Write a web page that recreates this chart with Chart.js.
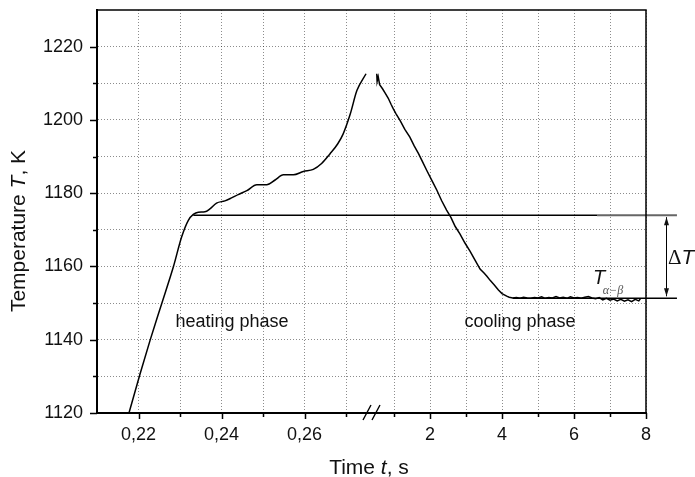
<!DOCTYPE html>
<html>
<head>
<meta charset="utf-8">
<script src="https://cdn.jsdelivr.net/npm/chart.js@4.4.0/dist/chart.umd.min.js"></script>
<style>
  html, body { margin: 0; padding: 0; background: #fff; }
  #wrap { width: 695px; height: 477px; }
</style>
</head>
<body>
<div id="wrap"><canvas id="tempChart"></canvas></div>
<script>
// heating phase (left part of the broken time axis)
const heatTime = [0.2175, 0.2204, 0.2228, 0.2256, 0.2284, 0.2304, 0.2320, 0.2332, 0.2344, 0.2360,
    0.2372, 0.2388, 0.2408, 0.2424, 0.2440, 0.2461, 0.2485, 0.2509, 0.2529, 0.2549,
    0.2573, 0.2597, 0.2621, 0.2641, 0.2661, 0.2680, 0.2693, 0.2710, 0.2726, 0.2748];
const heatTemp = [1119.2, 1130.8, 1139.9, 1149.9, 1159.9, 1168.1, 1172.6, 1174.2, 1174.8, 1174.9,
    1175.7, 1177.3, 1177.9, 1178.7, 1179.6, 1180.7, 1182.3, 1182.3, 1183.6, 1185.0,
    1185.0, 1185.9, 1186.5, 1188.1, 1190.7, 1193.5, 1196.2, 1201.6, 1208.0, 1212.6];

// cooling phase (right part of the time axis)
const coolTime = [0.52, 0.53, 0.56, 0.60, 0.68, 0.75, 0.84, 0.92, 0.98, 1.06,
    1.17, 1.30, 1.44, 1.56, 1.68, 1.80, 1.91, 2.05, 2.19, 2.32,
    2.46, 2.58, 2.70, 2.83, 2.97, 3.11, 3.25, 3.39, 3.50, 3.58,
    3.67, 3.78, 3.90, 4.00, 4.13, 4.2, 4.3, 4.4, 4.5, 4.6,
    4.7, 4.8, 4.9, 5.0, 5.1, 5.2, 5.3, 5.4, 5.5, 5.6,
    5.7, 5.8, 5.9, 6.0, 6.1, 6.2, 6.3, 6.4, 6.5, 6.6,
    6.7, 6.8, 6.9, 7.0, 7.1, 7.2, 7.3, 7.4, 7.5, 7.6,
    7.7, 7.8, 7.85];
const coolTemp = [1212.6, 1210.5, 1211.8, 1209.6, 1208.5, 1207.4, 1205.9, 1204.2, 1203.0, 1201.6,
    1199.8, 1197.4, 1195.3, 1192.9, 1190.8, 1188.4, 1186.2, 1183.5, 1180.8, 1178.0,
    1175.4, 1173.4, 1170.9, 1168.9, 1166.4, 1164.2, 1161.7, 1159.3, 1158.2, 1157.3,
    1156.2, 1155.0, 1153.6, 1152.6, 1151.9, 1151.6, 1151.4, 1151.5, 1151.3, 1151.6,
    1151.4, 1151.3, 1151.5, 1151.4, 1151.7, 1151.3, 1151.5, 1151.4, 1151.8, 1151.4,
    1151.6, 1151.3, 1151.7, 1151.4, 1151.5, 1151.3, 1151.6, 1151.8, 1151.4, 1151.2,
    1151.5, 1150.9, 1151.3, 1150.8, 1151.1, 1150.6, 1151.0, 1150.5, 1150.9, 1150.4,
    1151.0, 1150.6, 1151.3];

// reference levels
const levelTemp = 1174;        // end of heating plateau
const transTemp = 1151.3;      // T alpha-beta
const levelStart = 0.2332;     // where the plateau line starts (left axis)
const levelEnd = 6.64;         // black part ends (right axis)
const outerEnd = 8.86;         // lines drawn past the frame
const transStart = 4.3;
const arrowTime = 8.556;

// axis ticks and labels
const leftTicks = [0.21, 0.22, 0.23, 0.24, 0.25, 0.26, 0.27];
const leftLabels = [0.22, 0.24, 0.26];
const rightTicks = [1, 2, 3, 4, 5, 6, 7, 8];
const rightLabels = [2, 4, 6, 8];
const yTicks = [1120, 1130, 1140, 1150, 1160, 1170, 1180, 1190, 1200, 1210, 1220];
const yLabels = [1120, 1140, 1160, 1180, 1200, 1220];

const FONT = "'Liberation Sans', Arial, sans-serif";
const gridColor = 'rgba(0,0,0,0.45)';

const has = (arr, v) => arr.some(a => Math.abs(a - v) < 1e-6);
const pts = (xs, ys) => xs.map((x, i) => ({ x: x, y: ys[i] }));

function drawRuns(ctx, runs, x, y, align) {
    let total = 0;
    runs.forEach(r => { ctx.font = r[1]; total += ctx.measureText(r[0]).width; });
    let cx = align === 'center' ? x - total / 2 : x;
    ctx.textAlign = 'left';
    runs.forEach(r => {
        ctx.font = r[1];
        ctx.fillText(r[0], cx, y);
        cx += ctx.measureText(r[0]).width;
    });
}

// frame, tick marks, axis break, titles and annotations
const decorPlugin = {
    id: 'decor',
    afterDraw(chart) {
        const ctx = chart.ctx;
        const area = chart.chartArea;
        const { x1, x2, y } = chart.scales;
        ctx.save();
        ctx.strokeStyle = '#000';
        ctx.fillStyle = '#000';

        // top and right frame
        ctx.lineWidth = 1.5;
        ctx.beginPath();
        ctx.moveTo(area.left, area.top);
        ctx.lineTo(area.right, area.top);
        ctx.lineTo(area.right, area.bottom);
        ctx.stroke();

        // tick marks
        ctx.lineWidth = 1.5;
        ctx.beginPath();
        yTicks.forEach(v => {
            const py = Math.round(y.getPixelForValue(v)) + 0.5;
            const len = has(yLabels, v) ? 7 : 4;
            ctx.moveTo(area.left, py);
            ctx.lineTo(area.left - len, py);
        });
        leftTicks.forEach(v => {
            if (v === leftTicks[0]) return;
            const px = Math.round(x1.getPixelForValue(v)) + 0.5;
            const len = has(leftLabels, v) ? 6 : 4;
            ctx.moveTo(px, area.bottom);
            ctx.lineTo(px, area.bottom + len);
        });
        rightTicks.forEach(v => {
            const px = Math.round(x2.getPixelForValue(v)) + 0.5;
            const len = has(rightLabels, v) ? 6 : 4;
            ctx.moveTo(px, area.bottom);
            ctx.lineTo(px, area.bottom + len);
        });
        ctx.stroke();

        // axis break //
        const bx = x2.left;
        ctx.lineWidth = 1.4;
        ctx.beginPath();
        ctx.moveTo(bx - 8, area.bottom + 7);
        ctx.lineTo(bx, area.bottom - 8);
        ctx.moveTo(bx + 1, area.bottom + 7);
        ctx.lineTo(bx + 9, area.bottom - 8);
        ctx.stroke();

        // axis titles
        ctx.fillStyle = '#111';
        ctx.textBaseline = 'alphabetic';
        drawRuns(ctx, [['Time ', '21px ' + FONT], ['t', 'italic 21px ' + FONT], [', s', '21px ' + FONT]],
            369, 474, 'center');
        ctx.save();
        ctx.translate(25, 231);
        ctx.rotate(-Math.PI / 2);
        drawRuns(ctx, [['Temperature ', '21px ' + FONT], ['T', 'italic 21px ' + FONT], [', K', '21px ' + FONT]],
            0, 0, 'center');
        ctx.restore();

        // phase labels
        ctx.font = '18px ' + FONT;
        ctx.textAlign = 'center';
        ctx.textBaseline = 'middle';
        ctx.fillText('heating phase', x1.getPixelForValue(0.2425), y.getPixelForValue(1144.8));
        ctx.fillText('cooling phase', x2.getPixelForValue(4.5), y.getPixelForValue(1144.8));

        // T alpha-beta
        ctx.textBaseline = 'alphabetic';
        drawRuns(ctx, [['T', 'italic 20px ' + FONT]], x2.getPixelForValue(6.53), y.getPixelForValue(1155.1), 'left');
        ctx.fillStyle = '#555';
        drawRuns(ctx, [['\u03b1\u2212\u03b2', 'italic 12px "Liberation Serif", serif']],
            x2.getPixelForValue(6.8), y.getPixelForValue(1152.5), 'left');

        // delta T with double arrow
        ctx.fillStyle = '#111';
        drawRuns(ctx, [['\u0394', '21px "Liberation Serif", serif'], ['T', 'italic 21px ' + FONT]],
            x2.getPixelForValue(8.61), y.getPixelForValue(1160.6), 'left');
        const ax = Math.round(x2.getPixelForValue(arrowTime)) + 0.5;
        const ay1 = y.getPixelForValue(levelTemp) + 2;
        const ay2 = y.getPixelForValue(transTemp) - 2;
        ctx.lineWidth = 1;
        ctx.beginPath();
        ctx.moveTo(ax, ay1);
        ctx.lineTo(ax, ay2);
        ctx.stroke();
        ctx.beginPath();
        ctx.moveTo(ax, ay1);
        ctx.lineTo(ax - 2.5, ay1 + 8);
        ctx.lineTo(ax + 2.5, ay1 + 8);
        ctx.closePath();
        ctx.moveTo(ax, ay2);
        ctx.lineTo(ax - 2.5, ay2 - 8);
        ctx.lineTo(ax + 2.5, ay2 - 8);
        ctx.closePath();
        ctx.fill();
        ctx.restore();
    }
};

function xScale(min, max, ticks, labels, weight, fmt) {
    return {
        type: 'linear',
        position: 'bottom',
        stack: 'time',
        stackWeight: weight,
        min: min,
        max: max,
        afterBuildTicks: s => { s.ticks = ticks.map(v => ({ value: v })); },
        afterFit: s => { s.height = 64; s.paddingLeft = 0; s.paddingRight = 0; },
        ticks: {
            autoSkip: false,
            maxRotation: 0,
            padding: 11,
            color: '#111',
            font: { family: FONT, size: 18 },
            callback: v => has(labels, v) ? fmt(v) : ''
        },
        grid: { color: gridColor, lineWidth: 1, drawTicks: false },
        border: { color: '#000', width: 2, dash: [1, 2] }
    };
}

const ctx = document.getElementById('tempChart').getContext('2d');
const tempChart = new Chart(ctx, {
    type: 'line',
    data: {
        datasets: [
            {
                label: 'level',
                xAxisID: 'x1',
                data: [{ x: levelStart, y: levelTemp }, { x: 0.276, y: levelTemp }],
                borderColor: '#000', borderWidth: 1.5, pointRadius: 0
            },
            {
                label: 'level right',
                xAxisID: 'x2',
                data: [{ x: 0.36, y: levelTemp }, { x: levelEnd, y: levelTemp }],
                borderColor: '#000', borderWidth: 1.5, pointRadius: 0
            },
            {
                label: 'level ext',
                xAxisID: 'x2',
                data: [{ x: levelEnd, y: levelTemp }, { x: outerEnd, y: levelTemp }],
                borderColor: '#666', borderWidth: 2, pointRadius: 0, clip: false
            },
            {
                label: 'transition',
                xAxisID: 'x2',
                data: [{ x: transStart, y: transTemp }, { x: outerEnd, y: transTemp }],
                borderColor: '#000', borderWidth: 1.5, pointRadius: 0, clip: false
            },
            {
                label: 'heating',
                xAxisID: 'x1',
                data: pts(heatTime, heatTemp),
                borderColor: '#000', borderWidth: 1.5, pointRadius: 0,
                cubicInterpolationMode: 'monotone'
            },
            {
                label: 'cooling',
                xAxisID: 'x2',
                data: pts(coolTime, coolTemp),
                borderColor: '#000', borderWidth: 1.5, pointRadius: 0, tension: 0
            }
        ]
    },
    options: {
        responsive: true,
        maintainAspectRatio: false,
        animation: false,
        devicePixelRatio: 1,
        layout: { padding: { top: 10, right: 49, left: 0, bottom: 0 } },
        plugins: { legend: { display: false }, tooltip: { enabled: false } },
        scales: {
            x1: xScale(0.21, 0.276, leftTicks, leftLabels, 274, v => v.toFixed(2).replace('.', ',')),
            x2: xScale(0.36, 8, rightTicks, rightLabels, 275, v => String(Math.round(v))),
            y: {
                min: 1120,
                max: 1230,
                afterBuildTicks: s => { s.ticks = yTicks.map(v => ({ value: v })); },
                afterFit: s => { s.width = 97; s.paddingTop = 0; s.paddingBottom = 0; },
                ticks: {
                    autoSkip: false,
                    padding: 14,
                    color: '#111',
                    font: { family: FONT, size: 18 },
                    callback: v => has(yLabels, v) ? String(v) : ''
                },
                grid: { color: gridColor, lineWidth: 1, drawTicks: false },
                border: { color: '#000', width: 2, dash: [1, 2] }
            }
        }
    },
    plugins: [decorPlugin]
});
</script>
</body>
</html>
